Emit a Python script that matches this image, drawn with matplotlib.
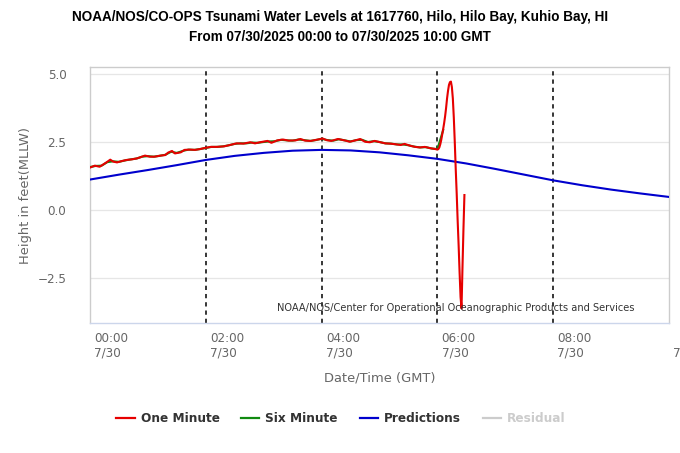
import matplotlib
matplotlib.use("Agg")
import matplotlib.pyplot as plt
import matplotlib.transforms as mtransforms
from matplotlib.lines import Line2D

# ---------------- data ----------------
title_line1 = "NOAA/NOS/CO-OPS Tsunami Water Levels at 1617760, Hilo, Hilo Bay, Kuhio Bay, HI"
title_line2 = "From 07/30/2025 00:00 to 07/30/2025 10:00 GMT"
x_label = "Date/Time (GMT)"
y_label = "Height in feet(MLLW)"
credit = "NOAA/NOS/Center for Operational Oceanographic Products and Services"

x_tick_hours = [0, 2, 4, 6, 8, 10]
x_tick_labels = ["00:00\n7/30", "02:00\n7/30", "04:00\n7/30",
                 "06:00\n7/30", "08:00\n7/30", "\n7/30"]
y_ticks = [-2.5, 0.0, 2.5, 5.0]
y_tick_labels = ["\u22122.5", "0.0", "2.5", "5.0"]

# One Minute water level (minutes after 00:00 GMT, feet)
one_min_minutes = [0, 5, 10, 14, 17, 21, 24, 28, 33, 38, 43, 49, 53, 57, 62, 67,
                   73, 78, 81, 85, 88, 94, 98, 104, 109, 114, 119, 125, 131, 139,
                   145, 152, 159, 166, 171, 176, 184, 188, 194, 200, 206, 213, 218,
                   223, 229, 233, 239, 241, 245, 250, 257, 265, 269, 275, 280, 285,
                   290, 295, 301, 306, 311, 316, 322, 326, 332, 337, 342, 347, 353,
                   358, 360, 361, 362, 363, 364, 365, 366, 367, 368, 369, 370, 371,
                   372, 373, 374, 375, 376, 377, 378, 379, 380, 381, 382, 383, 384,
                   385, 386, 387, 388]
one_min_values = [1.56, 1.63, 1.59, 1.68, 1.75, 1.85, 1.78, 1.75, 1.80, 1.84, 1.86,
                  1.90, 1.95, 2.00, 1.96, 1.96, 2.00, 2.02, 2.11, 2.17, 2.08, 2.12,
                  2.21, 2.22, 2.21, 2.24, 2.28, 2.32, 2.32, 2.34, 2.39, 2.45, 2.44,
                  2.49, 2.45, 2.49, 2.54, 2.47, 2.56, 2.59, 2.55, 2.56, 2.61, 2.55,
                  2.54, 2.57, 2.61, 2.63, 2.57, 2.54, 2.61, 2.55, 2.51, 2.56, 2.61,
                  2.51, 2.49, 2.54, 2.49, 2.45, 2.44, 2.42, 2.39, 2.43, 2.36, 2.32,
                  2.30, 2.32, 2.27, 2.24, 2.22, 2.24, 2.30, 2.42, 2.58, 2.78, 2.98,
                  3.20, 3.45, 3.75, 4.10, 4.38, 4.60, 4.70, 4.72, 4.52, 4.10, 3.40,
                  2.50, 1.50, 0.60, -0.40, -1.30, -2.30, -3.20, -3.62, -2.10, -0.70,
                  0.55]

# Six Minute water level
six_min_minutes = [0, 6, 12, 18, 24, 30, 36, 42, 48, 54, 60, 66, 72, 78, 84, 90,
                   96, 102, 108, 114, 120, 126, 132, 138, 144, 150, 156, 162, 168,
                   174, 180, 186, 192, 198, 204, 210, 216, 222, 228, 234, 240, 246,
                   252, 258, 264, 270, 276, 282, 288, 294, 300, 306, 312, 318, 324,
                   330, 336, 342, 348, 354, 360, 366]
six_min_values = [1.58, 1.62, 1.63, 1.76, 1.79, 1.77, 1.82, 1.86, 1.89, 1.96, 1.98,
                  1.96, 1.99, 2.03, 2.14, 2.10, 2.17, 2.22, 2.21, 2.24, 2.28, 2.32,
                  2.32, 2.34, 2.38, 2.43, 2.45, 2.45, 2.48, 2.47, 2.50, 2.52, 2.53,
                  2.58, 2.56, 2.55, 2.59, 2.57, 2.54, 2.57, 2.62, 2.57, 2.55, 2.60,
                  2.56, 2.52, 2.57, 2.58, 2.50, 2.53, 2.50, 2.45, 2.44, 2.41, 2.41,
                  2.38, 2.33, 2.30, 2.31, 2.26, 2.24, 2.94]

# Predictions (hours after 00:00 GMT, feet)
pred_hours = [0.0, 0.5, 1.0, 1.5, 2.0, 2.5, 3.0, 3.5, 4.0, 4.5, 5.0,
              5.5, 6.0, 6.5, 7.0, 7.5, 8.0, 8.5, 9.0, 9.5, 10.0]
pred_values = [1.12, 1.30, 1.47, 1.65, 1.84, 1.99, 2.10, 2.18, 2.21, 2.19, 2.12,
               2.01, 1.88, 1.71, 1.51, 1.30, 1.09, 0.91, 0.75, 0.61, 0.48]

legend_labels = ["One Minute", "Six Minute", "Predictions", "Residual"]
series_colors = ["#e60000", "#108a10", "#0000cd", "#cccccc"]

# ---------------- figure ----------------
W, H = 680, 453
fig = plt.figure(figsize=(W / 100, H / 100), dpi=100)
ax_left, ax_right, ax_top, ax_bottom = 90, 669, 67, 323.3
ax = fig.add_axes([ax_left / W, 1 - ax_bottom / H,
                   (ax_right - ax_left) / W, (ax_bottom - ax_top) / H])

one_min_h = [m / 60 for m in one_min_minutes]
six_min_h = [m / 60 for m in six_min_minutes]

ax.plot(pred_hours, pred_values, color=series_colors[2], lw=1.5, zorder=3,
        solid_joinstyle="round")
ax.plot(six_min_h, six_min_values, color=series_colors[1], lw=1.5, zorder=4,
        solid_joinstyle="round")
ax.plot(one_min_h, one_min_values, color=series_colors[0], lw=1.5, zorder=5,
        solid_joinstyle="round")

ax.set_xlim(0, 10)
ax.set_ylim(-4.165, 5.257)

# dashed vertical markers at interior ticks
for t in x_tick_hours[1:-1]:
    ax.axvline(t, color="black", lw=1.1, linestyle=(0, (2.8, 2.6)), zorder=2)

# y grid
ax.set_yticks(y_ticks)
ax.set_yticklabels(y_tick_labels)
ax.yaxis.grid(True, color="#e6e6e6", lw=0.9, zorder=0)
ax.set_axisbelow(True)

# x tick labels: left-aligned just right of each tick
ax.set_xticks(x_tick_hours)
ax.set_xticklabels([])
lab_trans = (mtransforms.blended_transform_factory(ax.transData, ax.transAxes)
             + mtransforms.ScaledTranslation(4.2 / 100, -8.5 / 100, fig.dpi_scale_trans))
for t, lab in zip(x_tick_hours, x_tick_labels):
    ax.text(t, 0, lab, transform=lab_trans, ha="left", va="top",
            fontsize=8.64, color="#666666", linespacing=1.15, clip_on=False)

ax.tick_params(axis="x", length=0)
ax.tick_params(axis="y", length=0, pad=17, labelsize=8.64, labelcolor="#666666")

for side in ["left", "top", "right"]:
    ax.spines[side].set_color("#cccccc")
    ax.spines[side].set_linewidth(1.0)
ax.spines["bottom"].set_color("#ccd6eb")
ax.spines["bottom"].set_linewidth(1.0)

ax.set_xlabel(x_label, fontsize=9.4, color="#666666")
ax.set_ylabel(y_label, fontsize=9.4, color="#666666")
ax.xaxis.set_label_coords(0.5, -(377.7 - ax_bottom) / (ax_bottom - ax_top))
ax.xaxis.label.set_verticalalignment("center")
ax.yaxis.set_label_coords(-(ax_left - 25.7) / (ax_right - ax_left),
                          0.5 - (195.5 - (ax_top + ax_bottom) / 2) / (ax_bottom - ax_top))
ax.yaxis.label.set_verticalalignment("center")

ax.text((634.4 - ax_left) / (ax_right - ax_left), (ax_bottom - 307.7) / (ax_bottom - ax_top),
        credit, transform=ax.transAxes, ha="right", va="center",
        fontsize=7.1, color="#333333", zorder=6)

fig.text(339.6 / W, 1 - 16.5 / H, title_line1, ha="center", va="center",
         fontsize=9.75, fontweight="bold", family="Liberation Sans", color="#000000")
fig.text(339.6 / W, 1 - 36.7 / H, title_line2, ha="center", va="center",
         fontsize=9.75, fontweight="bold", family="Liberation Sans", color="#000000")

handles = [Line2D([0], [0], color=c, lw=1.6) for c in series_colors]
leg = fig.legend(handles, legend_labels, loc="center",
                 bbox_to_anchor=(340.9 / W, 1 - 418.3 / H), ncol=4, frameon=False,
                 prop=dict(weight="bold", size=8.7), handlelength=1.5,
                 handletextpad=0.5, columnspacing=1.8)
for txt, c in zip(leg.get_texts(), ["#333333", "#333333", "#333333", "#cccccc"]):
    txt.set_color(c)

fig.savefig("out.png", dpi=100)
